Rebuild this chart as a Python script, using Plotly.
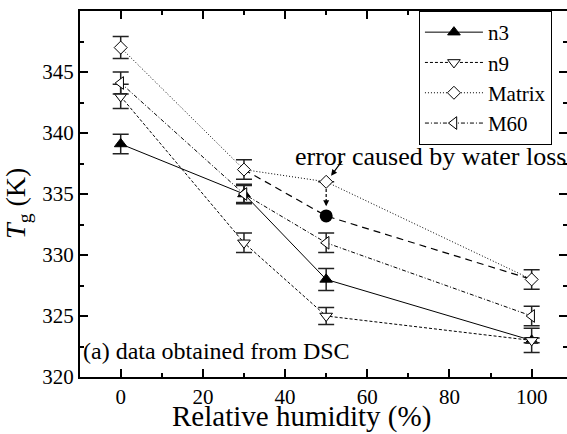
import plotly.graph_objects as go

rh = [0, 30, 50, 100]
n3 = [339.1, 335.0, 328.0, 323.0]
n3_err = [0.8, 0.7, 0.9, 1.0]
n9 = [343.0, 331.0, 325.0, 323.0]
n9_err = [1.0, 0.8, 0.7, 0.2]
matrix = [347.0, 337.0, 336.0, 328.0]
matrix_err = [0.9, 0.8, 0.0, 0.8]
m60 = [344.1, 335.0, 331.0, 325.0]
m60_err = [0.9, 0.8, 0.8, 0.8]
# corrected matrix value (water loss)
corr_x = [30, 50, 100]
corr_y = [337.0, 333.2, 328.0]

FONT = "Liberation Serif"

fig = go.Figure()

def add(name, y, err, symbol, dash, filled):
    fig.add_trace(go.Scatter(
        x=rh, y=y, name=name, mode="lines+markers",
        line=dict(color="black", width=1, dash=dash),
        marker=dict(symbol=symbol, size=11 if "triangle" in symbol else 10,
                    color="black" if filled else "white",
                    line=dict(color="black", width=1)),
        error_y=dict(type="data", array=err, visible=True, color="#222",
                     thickness=1.5, width=8),
    ))

fig.add_trace(go.Scatter(
    x=corr_x, y=corr_y, mode="lines", showlegend=False,
    line=dict(color="black", width=1.2, dash="7px,5px"), hoverinfo="skip"))
fig.add_trace(go.Scatter(
    x=[50], y=[333.2], mode="markers", showlegend=False,
    marker=dict(symbol="circle", size=13, color="black")))
fig.add_trace(go.Scatter(
    x=[50, 50], y=[335.4, 334.3], mode="lines", showlegend=False,
    line=dict(color="black", width=1.2, dash="3px,2px"), hoverinfo="skip"))

add("n3", n3, n3_err, "triangle-up", "solid", True)
add("n9", n9, n9_err, "triangle-down", "3px,2px", False)
add("Matrix", matrix, matrix_err, "diamond", "1px,2px", False)
add("M60", m60, m60_err, "triangle-left", "4px,2px,1px,2px", False)

axis_common = dict(showline=True, linecolor="black", linewidth=2, mirror="ticks",
                   ticks="inside", tickcolor="black", tickwidth=1.5, ticklen=8,
                   showgrid=False, zeroline=False, automargin=False,
                   tickfont=dict(family=FONT, size=21, color="black"))

fig.update_xaxes(range=[-9.9, 108.6], tickvals=[0, 20, 40, 60, 80, 100],
                 minor=dict(ticks="inside", ticklen=4, dtick=10, tick0=0,
                            tickcolor="black", tickwidth=1.5),
                 **axis_common)
fig.update_yaxes(range=[320, 350], dtick=5, tick0=320,
                 minor=dict(ticks="inside", ticklen=4, dtick=2.5, tick0=320,
                            tickcolor="black", tickwidth=1.5),
                 **axis_common)

# axis titles
fig.add_annotation(x=43.9, y=-0.107, xref="paper" if False else "x", yref="paper",
                   text="Relative humidity (%)", showarrow=False,
                   font=dict(family=FONT, size=29, color="black"),
                   xanchor="center", yanchor="middle")
fig.add_annotation(x=-0.127, y=334.2, xref="paper", yref="y",
                   text="<i>T</i><sub>g</sub> (K)", showarrow=False, textangle=-90,
                   font=dict(family=FONT, size=28, color="black"),
                   xanchor="center", yanchor="middle")

fig.add_annotation(x=-9.7, y=322.1, xref="x", yref="y", xanchor="left",
                   yanchor="middle", text="(a) data obtained from DSC",
                   showarrow=False, font=dict(family=FONT, size=24, color="black"))
fig.add_annotation(x=75.3, y=338.1, xref="x", yref="y", xanchor="center",
                   yanchor="middle", text="error caused by water loss",
                   showarrow=False, font=dict(family=FONT, size=26, color="black"))
fig.add_annotation(x=51.2, y=336.5, xref="x", yref="y", ax=12, ay=-16,
                   text="", showarrow=True, arrowhead=2, arrowsize=1,
                   arrowwidth=1.2, arrowcolor="black")
fig.add_annotation(x=50, y=334.0, xref="x", yref="y", ax=0, ay=-4,
                   text="", showarrow=True, arrowhead=2, arrowsize=1,
                   arrowwidth=1.2, arrowcolor="black")

fig.update_layout(
    width=567, height=434,
    margin=dict(l=80, r=0, t=11, b=57, autoexpand=False),
    paper_bgcolor="white", plot_bgcolor="white",
    font=dict(family=FONT, color="black"),
    legend=dict(x=0.696, y=1.0, xanchor="left", yanchor="top",
                bordercolor="black", borderwidth=1, bgcolor="white",
                font=dict(family=FONT, size=21, color="black"),
                itemwidth=58, tracegroupgap=0),
    showlegend=True,
)

fig.write_html("out.html", config={"displayModeBar": False},
               post_script="document.body.style.margin='0px';")
